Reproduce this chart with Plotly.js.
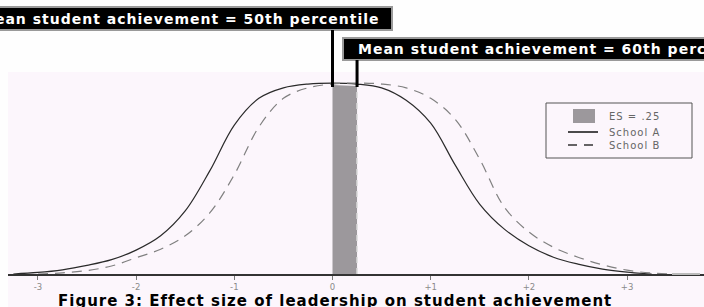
<!DOCTYPE html>
<html>
<head>
<meta charset="utf-8">
<script src="https://cdn.plot.ly/plotly-3.0.1.min.js"></script>
<style>
  html, body { margin: 0; padding: 0; background: #ffffff; }
  #chart { width: 704px; height: 307px; }
  .annotation-text { letter-spacing: 1.0px; }
</style>
</head>
<body>
<div id="chart"></div>
<script>
// ---- data ----
const xSchoolA = [-3.25,-3.0,-2.75,-2.5,-2.25,-2.0,-1.75,-1.5,-1.25,-1.0,-0.75,-0.5,-0.25,0,0.25,0.5,0.75,1.0,1.25,1.5,1.75,2.0,2.25,2.5,2.75,3.0,3.25];
const ySchoolA = [0,0.008,0.022,0.045,0.075,0.125,0.2,0.33,0.54,0.78,0.92,0.975,0.995,1.0,0.995,0.975,0.91,0.79,0.57,0.365,0.235,0.148,0.088,0.052,0.026,0.01,0];
const xSchoolB = [-3.0,-2.75,-2.5,-2.25,-2.0,-1.75,-1.5,-1.25,-1.0,-0.75,-0.5,-0.25,0,0.25,0.5,0.75,1.0,1.25,1.5,1.75,2.0,2.25,2.5,2.75,3.0,3.25,3.5];
const ySchoolB = [0,0.006,0.018,0.042,0.085,0.13,0.2,0.32,0.52,0.77,0.92,0.975,0.995,1.0,0.995,0.975,0.92,0.81,0.6,0.35,0.22,0.14,0.088,0.048,0.02,0.005,0];
const meanA = 0;
const effectSize = 0.25;
const tickValues = [-3,-2,-1,0,1,2,3];
const tickLabels = ['-3','-2','-1','0','+1','+2','+3'];
const seriesNames = ['ES = .25','School A','School B'];
const labelA = 'Mean student achievement = 50th percentile';
const labelB = 'Mean student achievement = 60th percentile';
const caption = 'Figure 3: Effect size of leadership on student achievement';

// ---- layout geometry (pixels) ----
const W = 704, H = 307;
const M = {l: 8, r: 0, t: 72, b: 33};
const plotW = W - M.l - M.r, plotH = H - M.t - M.b;
const px = x => (x - M.l) / plotW;
const py = y => (H - M.b - y) / plotH;

function valueAt(xs, ys, x) {
  const i = xs.indexOf(x);
  return i >= 0 ? ys[i] : 0;
}

const PINK = '#fcf6fc';
const SHADE = '#9c989c';
const COLOR_A = '#2a2a2a';
const COLOR_B = '#808080';

const traces = [
  {
    x: [meanA, meanA, meanA + effectSize, meanA + effectSize],
    y: [0, valueAt(xSchoolA, ySchoolA, meanA) * 0.99, valueAt(xSchoolA, ySchoolA, meanA + effectSize) * 0.99, 0],
    mode: 'lines', fill: 'toself', fillcolor: SHADE,
    line: {width: 0, color: SHADE},
    name: seriesNames[0], hoverinfo: 'skip'
  },
  {
    x: xSchoolA, y: ySchoolA, mode: 'lines',
    line: {color: COLOR_A, width: 1.2, shape: 'spline', smoothing: 1},
    name: seriesNames[1]
  },
  {
    x: xSchoolB, y: ySchoolB, mode: 'lines',
    line: {color: COLOR_B, width: 1.2, dash: '10px,7px', shape: 'spline', smoothing: 1},
    name: seriesNames[2]
  }
];

// legend drawn as a framed key
const legendRows = [116, 132, 145];
const legendShapes = [
  {type: 'rect', xref: 'paper', yref: 'paper', x0: px(546), x1: px(692), y0: py(158), y1: py(103),
   fillcolor: PINK, line: {color: '#555555', width: 1}},
  {type: 'rect', xref: 'paper', yref: 'paper', x0: px(573), x1: px(595), y0: py(legendRows[0] + 7), y1: py(legendRows[0] - 7),
   fillcolor: SHADE, line: {width: 0}},
  {type: 'line', xref: 'paper', yref: 'paper', x0: px(568), x1: px(598), y0: py(legendRows[1]), y1: py(legendRows[1]),
   line: {color: '#111111', width: 1.5}},
  {type: 'line', xref: 'paper', yref: 'paper', x0: px(568), x1: px(598), y0: py(legendRows[2]), y1: py(legendRows[2]),
   line: {color: '#333333', width: 1.5, dash: '9px,7px'}}
];
const legendTexts = seriesNames.map((name, i) => ({
  text: name, xref: 'paper', yref: 'paper', x: px(607), y: py(legendRows[i]),
  xanchor: 'left', yanchor: 'middle', showarrow: false,
  font: {family: 'DejaVu Sans', size: 10, color: '#666666'}
}));

const layout = {
  width: W, height: H,
  margin: M,
  paper_bgcolor: '#fefefe',
  plot_bgcolor: PINK,
  showlegend: false,
  xaxis: {
    range: [-(332.5 - M.l) / 98.2, (W - M.r - 332.5) / 98.2],
    tickmode: 'array', tickvals: tickValues, ticktext: tickLabels,
    ticks: 'outside', ticklen: 4, tickcolor: '#777777', tickwidth: 1,
    tickfont: {family: 'DejaVu Sans', size: 8.5, color: '#8a8a8a'},
    showgrid: false, zeroline: false,
    showline: true, linecolor: '#333333', linewidth: 2,
    fixedrange: true
  },
  yaxis: {
    range: [0, 1.058], visible: false, showgrid: false, zeroline: false, fixedrange: true
  },
  shapes: [
    {type: 'rect', xref: 'paper', yref: 'paper', x0: 0, x1: 1, y0: py(H), y1: 0,
     fillcolor: PINK, line: {width: 0}, layer: 'below'},
    {type: 'line', xref: 'paper', yref: 'paper', x0: px(672), x1: px(700), y0: 0, y1: 0,
     line: {color: '#bbbbbb', width: 2}},
    {type: 'line', xref: 'x', yref: 'y', x0: meanA + effectSize, x1: meanA + effectSize, y0: 0, y1: 0.99,
     line: {color: '#dddddd', width: 1.5, dash: '6px,5px'}},
    {type: 'rect', xref: 'paper', yref: 'paper', x0: px(-10), x1: px(392), y0: py(30), y1: py(7),
     fillcolor: '#000000', line: {color: '#9a9a9a', width: 2}},
    {type: 'rect', xref: 'paper', yref: 'paper', x0: px(343), x1: px(716), y0: py(60), y1: py(38),
     fillcolor: '#000000', line: {color: '#9a9a9a', width: 2}},
    {type: 'line', xref: 'x', yref: 'paper', x0: meanA, x1: meanA, y0: py(87), y1: py(30),
     line: {color: '#000000', width: 3}},
    {type: 'line', xref: 'x', yref: 'paper', x0: meanA + effectSize, x1: meanA + effectSize, y0: py(87), y1: py(60),
     line: {color: '#000000', width: 3}}
  ].concat(legendShapes),
  annotations: [
    {text: '<b>' + labelA + '</b>', xref: 'paper', yref: 'paper', x: px(382), y: py(18.5),
     xanchor: 'right', yanchor: 'middle', showarrow: false,
     font: {family: 'DejaVu Sans', size: 14, color: '#ffffff'}},
    {text: '<b>' + labelB + '</b>', xref: 'paper', yref: 'paper', x: px(356), y: py(49),
     xanchor: 'left', yanchor: 'middle', showarrow: false,
     font: {family: 'DejaVu Sans', size: 14, color: '#ffffff'}},
    {text: '<b>' + caption + '</b>', xref: 'paper', yref: 'paper', x: px(335), y: py(290),
     xanchor: 'center', yanchor: 'top', showarrow: false,
     font: {family: 'DejaVu Sans', size: 15, color: '#000000'}}
  ].concat(legendTexts)
};

Plotly.newPlot('chart', traces, layout, {staticPlot: true, displayModeBar: false});
</script>
</body>
</html>
